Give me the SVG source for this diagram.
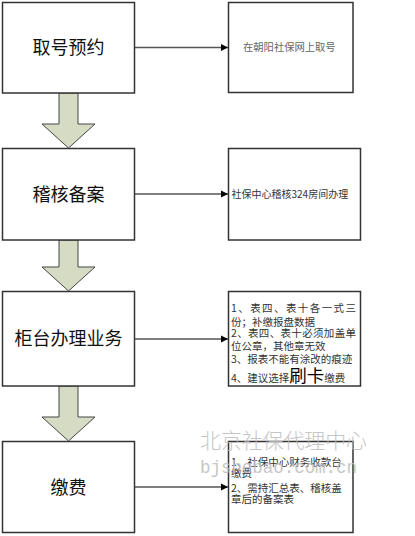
<svg xmlns="http://www.w3.org/2000/svg" width="415" height="536" viewBox="0 0 415 536">
<defs>
<style>
.box{fill:#fff;stroke:#333;stroke-width:1.5}
.big{font-family:"Noto Sans CJK SC","Noto Sans",sans-serif;font-size:18px;fill:#111;text-anchor:middle}
.sm{font-family:"Noto Sans CJK SC","Noto Sans",sans-serif;font-size:10.5px;fill:#333}
.down{fill:#d6dcc4;stroke:#444;stroke-width:1}
.conn{stroke:#555;stroke-width:1.5;fill:none}
.wm{font-family:"Noto Sans CJK SC",sans-serif;font-weight:300;font-size:21px;fill:#bdbdbd;opacity:0.85}
.wm2{font-family:"Liberation Mono",monospace;font-size:17.5px;fill:#bdbdbd;opacity:0.85}
</style>
<marker id="ah" markerWidth="8" markerHeight="8" refX="7" refY="4" orient="auto" markerUnits="userSpaceOnUse">
<path d="M0,0.5 L7,4 L0,7.5 Z" fill="#000"/>
</marker>
</defs>
<rect width="415" height="536" fill="#fff"/>

<g id="connectors">
<polygon class="down" points="59,93 78,93 78,124 95,124 68.5,148 42,124 59,124"/>
<polygon class="down" points="59,240 78,240 78,267 95,267 68.5,291 42,267 59,267"/>
<polygon class="down" points="59,386 78,386 78,417 95,417 68.5,441 42,417 59,417"/>
<line class="conn" x1="134" y1="47.5" x2="228" y2="47.5" marker-end="url(#ah)"/>
<line class="conn" x1="134" y1="194" x2="228" y2="194" marker-end="url(#ah)"/>
<line class="conn" x1="134" y1="339" x2="228" y2="339" marker-end="url(#ah)"/>
<line class="conn" x1="134" y1="487" x2="228" y2="487" marker-end="url(#ah)"/>
</g>

<g id="step1">
<rect class="box" x="2.5" y="2.5" width="132" height="90.5"/>
<text class="big" x="68.5" y="54">取号预约</text>
</g>
<g id="note1">
<rect class="box" x="228.5" y="2.5" width="124.5" height="90"/>
<text class="sm" x="243" y="51" style="fill:#666;font-size:10.3px">在朝阳社保网上取号</text>
</g>

<g id="step2">
<rect class="box" x="2.5" y="148.5" width="132" height="91.5"/>
<text class="big" x="68.5" y="201">稽核备案</text>
</g>
<g id="note2">
<rect class="box" x="228.5" y="148.5" width="132" height="91.5"/>
<text class="sm" x="231.5" y="198" style="font-size:10px">社保中心稽核324房间办理</text>
</g>

<g id="step3">
<rect class="box" x="2.5" y="291.5" width="132" height="94.5"/>
<text class="big" x="68.5" y="345">柜台办理业务</text>
</g>
<g id="note3">
<rect class="box" x="228.5" y="291.5" width="132" height="94.5"/>
<text class="sm" x="231" y="311.7" textLength="125" lengthAdjust="spacing">1、表四、表十各一式三</text>
<text class="sm" x="231" y="325.7">份；补缴报盘数据</text>
<text class="sm" x="231" y="337.3" textLength="125" lengthAdjust="spacing">2、表四、表十必须加盖单</text>
<text class="sm" x="231" y="350">位公章，其他章无效</text>
<text class="sm" x="231" y="363.3">3、报表不能有涂改的痕迹</text>
<text class="sm" x="231" y="382">4、建议选择<tspan style="font-size:17.5px;fill:#000">刷卡</tspan>缴费</text>
</g>

<g id="step4">
<rect class="box" x="2.5" y="441.5" width="132" height="91"/>
<text class="big" x="68.5" y="494">缴费</text>
</g>
<g id="note4">
<rect class="box" x="228.5" y="441.5" width="124.5" height="91"/>
<text class="sm" x="231" y="465.5">1、社保中心财务收款台</text>
<text class="sm" x="231" y="476.5">缴费</text>
<text class="sm" x="231" y="491.5">2、需持汇总表、稽核盖</text>
<text class="sm" x="231" y="502.5">章后的备案表</text>
</g>

<g id="watermark">
<text class="wm" x="200" y="448" textLength="167" lengthAdjust="spacing">北京社保代理中心</text>
<text class="wm2" x="200" y="473" textLength="157" lengthAdjust="spacing">bjshebao.com.cn</text>
</g>
</svg>
